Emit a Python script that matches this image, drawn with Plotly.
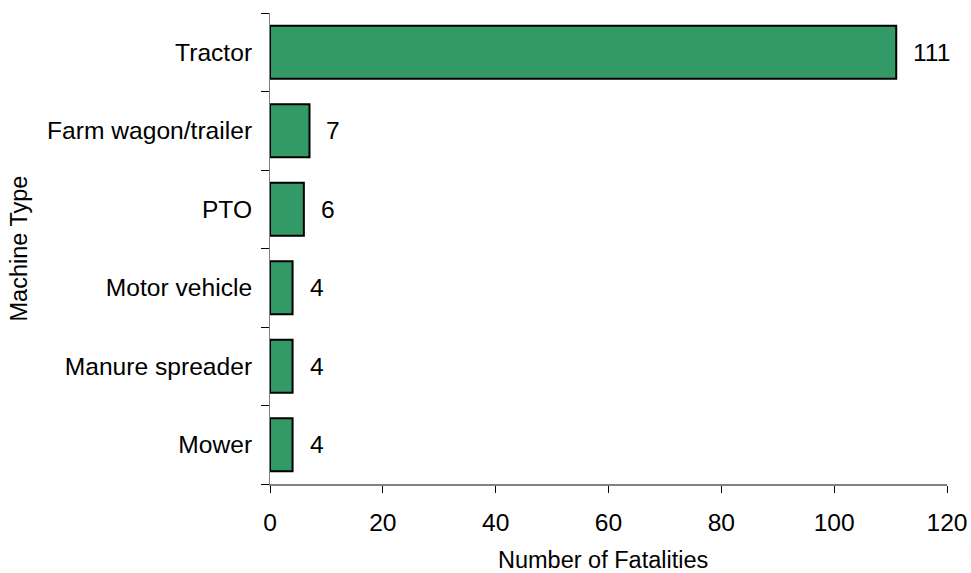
import plotly.graph_objects as go

categories = ["Mower", "Manure spreader", "Motor vehicle", "PTO", "Farm wagon/trailer", "Tractor"]
fatalities = [4, 4, 4, 6, 7, 111]
x_ticks = [0, 20, 40, 60, 80, 100, 120]

FONT = "Liberation Sans, Arial, sans-serif"
FS = 24.6
L, R, T, B = 270, 24, 13, 89
W, H = 971, 573
PW, PH = W - L - R, H - T - B

fig = go.Figure()
fig.add_trace(go.Bar(
    y=categories, x=fatalities, orientation="h",
    marker=dict(color="#339966", line=dict(color="#000000", width=2)),
    width=0.675, showlegend=False, hoverinfo="x+y",
))
for c, v in zip(categories, fatalities):
    fig.add_annotation(x=v, y=c, text=str(v), showarrow=False, xanchor="left",
                       xshift=15, font=dict(family=FONT, size=FS, color="#000"))

# axis titles
fig.add_annotation(xref="paper", yref="paper", x=(18 - L) / PW, y=0.5, text="Machine Type",
                   textangle=-90, showarrow=False, xanchor="center", yanchor="middle",
                   font=dict(family=FONT, size=23.5, color="#000"))
fig.add_annotation(xref="paper", yref="paper", x=(603 - L) / PW, y=-(560 - (T + PH)) / PH,
                   text="Number of Fatalities",
                   showarrow=False, xanchor="center", yanchor="middle",
                   font=dict(family=FONT, size=23.5, color="#000"))

fig.update_layout(
    width=W, height=H,
    margin=dict(l=L, r=R, t=T, b=B),
    plot_bgcolor="white", paper_bgcolor="white",
    font=dict(family=FONT, size=FS, color="#000"),
)
fig.update_xaxes(
    range=[0, 120], tickvals=x_ticks, ticktext=[str(t) for t in x_ticks],
    showgrid=False, zeroline=False, showline=True, linecolor="#808080", linewidth=2,
    ticks="outside", ticklen=7, tickcolor="#000", tickwidth=1,
    tickfont=dict(size=FS), automargin=False, ticklabelstandoff=8,
)
fig.update_yaxes(
    categoryorder="array", categoryarray=categories, range=[-0.5, 5.5],
    showgrid=False, zeroline=False, showline=True, linecolor="#808080", linewidth=1,
    ticks="outside", ticklen=8, tickcolor="#000", tickwidth=1, tickson="boundaries",
    tickfont=dict(size=FS), ticklabelstandoff=12, automargin=False,
)
fig.write_html("out.html", config={"displayModeBar": False},
               post_script="document.body.style.margin='0';document.body.style.padding='0';")
